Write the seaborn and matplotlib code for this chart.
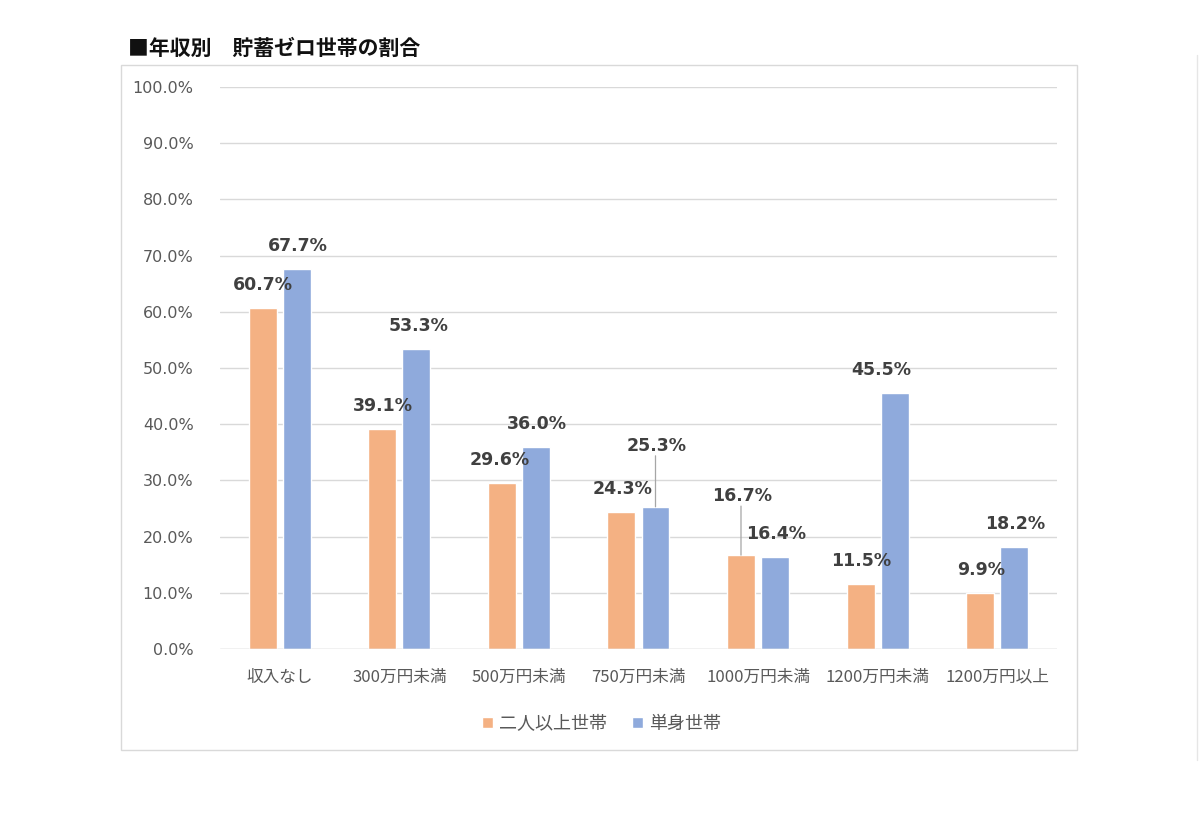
import numpy as np
import pandas as pd
import seaborn as sns
import matplotlib.pyplot as plt
from matplotlib.patches import Rectangle
from matplotlib.lines import Line2D

# data (percent)
categories = ["収入なし", "300万円未満", "500万円未満", "750万円未満",
              "1000万円未満", "1200万円未満", "1200万円以上"]
multi = [60.7, 39.1, 29.6, 24.3, 16.7, 11.5, 9.9]
single = [67.7, 53.3, 36.0, 25.3, 16.4, 45.5, 18.2]
series = ["二人以上世帯", "単身世帯"]
colors = ["#F4B183", "#8FAADC"]

df = pd.DataFrame({
    "cat": categories * 2,
    "val": multi + single,
    "series": [series[0]] * len(categories) + [series[1]] * len(categories),
})

sns.set_theme(style="white")
plt.rcParams["font.family"] = ["Noto Sans CJK JP", "DejaVu Sans"]

fig = plt.figure(figsize=(12, 8.19), dpi=100)
ax = fig.add_axes([0.1833, 0.2076, 0.6975, 0.6862])

sns.barplot(data=df, x="cat", y="val", hue="series", palette=colors,
            width=0.57, gap=0.18, ax=ax, legend=True, saturation=1)

ax.set_ylim(0, 100)
ax.set_yticks(np.arange(0, 101, 10))
ax.set_yticklabels([f"{v:.1f}%" for v in np.arange(0, 101, 10)])
ax.yaxis.grid(True, color="#D9D9D9", linewidth=1)
ax.set_axisbelow(True)
for s in ax.spines.values():
    s.set_visible(False)
ax.set_xlabel("")
ax.set_ylabel("")
ax.tick_params(axis="y", length=0, pad=19, labelsize=11.5, labelcolor="#595959")
ax.tick_params(axis="x", length=0, pad=14, labelsize=12, labelcolor="#595959")
for t in ax.get_yticklabels():
    t.set_family("DejaVu Sans")
ax.axhline(0, color="#D9D9D9", linewidth=1)

# data labels; a few are nudged (pixels) like in the source chart
nudge = {(0, 0): (-1, 0), (0, 2): (-3, 0), (1, 5): (-14, 0), (1, 1): (1, 0)}
leader = {(1, 3): 38, (0, 4): 36}
for si, cont in enumerate(ax.containers):
    for ci, bar in enumerate(cont):
        x = bar.get_x() + bar.get_width() / 2
        h = bar.get_height()
        dx, dy = nudge.get((si, ci), (0, 0))
        lift = leader.get((si, ci), 0)
        ax.annotate(f"{h:.1f}%", (x, h), xytext=((dx + 1) * 0.72, (23 + lift) * 0.72),
                    textcoords="offset points", ha="center", va="center",
                    fontsize=12.5, fontweight="bold", color="#404040",
                    family="DejaVu Sans")
        if lift:
            ax.annotate("", (x, h), xytext=(0, (lift + 13) * 0.72),
                        textcoords="offset points",
                        arrowprops=dict(arrowstyle="-", color="#A6A6A6", lw=0.9,
                                        shrinkA=0, shrinkB=0))

leg = ax.legend(loc="upper center", bbox_to_anchor=(0.456, -0.088), ncol=2,
                frameon=False, fontsize=13, handlelength=0.6, handleheight=0.6,
                handletextpad=0.35, columnspacing=1.4)
for t in leg.get_texts():
    t.set_color("#595959")

# chart frame and title
fig.patches.append(Rectangle((121 / 1200, 1 - 750 / 819), 956 / 1200, 685 / 819,
                             transform=fig.transFigure, fill=False,
                             edgecolor="#D9D9D9", linewidth=1))
fig.lines.append(Line2D([1197 / 1200, 1197 / 1200], [1 - 760 / 819, 1 - 55 / 819],
                        transform=fig.transFigure, color="#E6E6E6", linewidth=1))
fig.text(128 / 1200, 1 - 48 / 819, "■年収別　貯蓄ゼロ世帯の割合", fontsize=15,
         fontweight="bold", color="#111111", va="center", ha="left")

fig.savefig("out.png", dpi=100, facecolor="white")
